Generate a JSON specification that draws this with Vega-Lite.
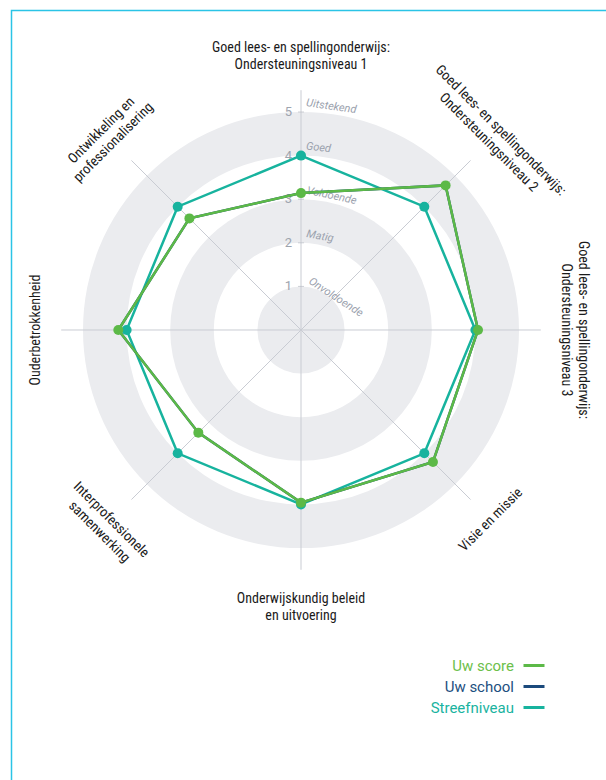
{
  "$schema": "https://vega.github.io/schema/vega-lite/v6.json",
  "width": 600.5,
  "height": 775.5,
  "autosize": {"type": "none"},
  "padding": {"left": 11.5, "top": 10.5, "right": 0, "bottom": 0},
  "background": "white",
  "config": {
    "view": {"stroke": "#2bc4e6", "strokeWidth": 1.5},
    "font": "Roboto"
  },
  "datasets": {
    "axes": [
      {"idx": 0, "axis": "Goed lees- en spellingonderwijs:\nOndersteuningsniveau 1"},
      {"idx": 1, "axis": "Goed lees- en spellingonderwijs:\nOndersteuningsniveau 2"},
      {"idx": 2, "axis": "Goed lees- en spellingonderwijs:\nOndersteuningsniveau 3"},
      {"idx": 3, "axis": "Visie en missie"},
      {"idx": 4, "axis": "Onderwijskundig beleid\nen uitvoering"},
      {"idx": 5, "axis": "Interprofessionele\nsamenwerking"},
      {"idx": 6, "axis": "Ouderbetrokkenheid"},
      {"idx": 7, "axis": "Ontwikkeling en\nprofessionalisering"}
    ],
    "scores": [
      {"idx": 0, "series": "Streefniveau", "value": 4},
      {"idx": 1, "series": "Streefniveau", "value": 4},
      {"idx": 2, "series": "Streefniveau", "value": 4},
      {"idx": 3, "series": "Streefniveau", "value": 4},
      {"idx": 4, "series": "Streefniveau", "value": 4},
      {"idx": 5, "series": "Streefniveau", "value": 4},
      {"idx": 6, "series": "Streefniveau", "value": 4},
      {"idx": 7, "series": "Streefniveau", "value": 4},
      {"idx": 0, "series": "Uw school", "value": 3.14},
      {"idx": 1, "series": "Uw school", "value": 4.69},
      {"idx": 2, "series": "Uw school", "value": 4.06},
      {"idx": 3, "series": "Uw school", "value": 4.28},
      {"idx": 4, "series": "Uw school", "value": 3.96},
      {"idx": 5, "series": "Uw school", "value": 3.33},
      {"idx": 6, "series": "Uw school", "value": 4.19},
      {"idx": 7, "series": "Uw school", "value": 3.62},
      {"idx": 0, "series": "Uw score", "value": 3.14},
      {"idx": 1, "series": "Uw score", "value": 4.69},
      {"idx": 2, "series": "Uw score", "value": 4.06},
      {"idx": 3, "series": "Uw score", "value": 4.28},
      {"idx": 4, "series": "Uw score", "value": 3.96},
      {"idx": 5, "series": "Uw score", "value": 3.33},
      {"idx": 6, "series": "Uw score", "value": 4.19},
      {"idx": 7, "series": "Uw score", "value": 3.62}
    ],
    "rings": [
      {"r": 5},
      {"r": 4},
      {"r": 3},
      {"r": 2},
      {"r": 1}
    ],
    "levels": [
      {"v": 1, "label": "Onvoldoende"},
      {"v": 2, "label": "Matig"},
      {"v": 3, "label": "Voldoende"},
      {"v": 4, "label": "Goed"},
      {"v": 5, "label": "Uitstekend"}
    ]
  },
  "layer": [
    {
      "data": {"name": "rings"},
      "mark": {"type": "point", "shape": "circle", "filled": true, "opacity": 1, "strokeWidth": 0},
      "encoding": {
        "x": {"datum": 0, "type": "quantitative", "axis": null, "scale": {"domain": [-6.640, 7.133], "nice": false, "zero": false}},
        "y": {"datum": 0, "type": "quantitative", "axis": null, "scale": {"domain": [-10.459, 7.328], "nice": false, "zero": false}},
        "size": {"field": "r", "type": "quantitative", "scale": {"type": "pow", "exponent": 2, "domain": [0, 5], "range": [0, 190096], "zero": true}, "legend": null},
        "color": {"condition": {"test": "datum.r % 2 == 1", "value": "#ebecef"}, "value": "#ffffff"}
      }
    },
    {
      "data": {"name": "axes"},
      "transform": [
        {"calculate": "5.5*sin(datum.idx*PI/4)", "as": "ex"},
        {"calculate": "5.5*cos(datum.idx*PI/4)", "as": "ey"}
      ],
      "mark": {"type": "rule", "color": "#c9ccd3", "strokeWidth": 1},
      "encoding": {
        "x": {"field": "ex", "type": "quantitative", "axis": null, "scale": {"domain": [-6.640, 7.133], "nice": false, "zero": false}},
        "y": {"field": "ey", "type": "quantitative", "axis": null, "scale": {"domain": [-10.459, 7.328], "nice": false, "zero": false}},
        "x2": {"datum": 0},
        "y2": {"datum": 0}
      }
    },
    {
      "data": {"name": "levels"},
      "mark": {"type": "tick", "orient": "horizontal", "size": 6, "thickness": 1, "color": "#b9bdc6"},
      "encoding": {
        "x": {"datum": 0, "type": "quantitative", "axis": null, "scale": {"domain": [-6.640, 7.133], "nice": false, "zero": false}},
        "y": {"field": "v", "type": "quantitative", "axis": null, "scale": {"domain": [-10.459, 7.328], "nice": false, "zero": false}}
      }
    },
    {
      "data": {"name": "levels"},
      "mark": {"type": "text", "align": "right", "baseline": "middle", "dx": -9, "fontSize": 13, "color": "#9ea4ae", "font": "Roboto"},
      "encoding": {
        "x": {"datum": 0, "type": "quantitative", "axis": null, "scale": {"domain": [-6.640, 7.133], "nice": false, "zero": false}},
        "y": {"field": "v", "type": "quantitative", "axis": null, "scale": {"domain": [-10.459, 7.328], "nice": false, "zero": false}},
        "text": {"field": "v", "type": "quantitative"}
      }
    },
    {
      "data": {"name": "levels"},
      "mark": {"type": "text", "align": "left", "baseline": "alphabetic", "dx": 4, "dy": -6.5, "fontSize": 11, "fontStyle": "italic", "color": "#9aa1ad", "font": "Roboto"},
      "encoding": {
        "x": {"datum": 0, "type": "quantitative", "axis": null, "scale": {"domain": [-6.640, 7.133], "nice": false, "zero": false}},
        "y": {"field": "v", "type": "quantitative", "axis": null, "scale": {"domain": [-10.459, 7.328], "nice": false, "zero": false}},
        "text": {"field": "label", "type": "nominal"},
        "angle": {"field": "v", "type": "quantitative", "scale": {"type": "linear", "domain": [1, 2, 3, 4, 5], "range": [33, 10, 12, 6, 8]}}
      }
    },
    {
      "data": {"name": "axes"},
      "transform": [
        {"filter": "datum.idx <= 2 || datum.idx == 7"},
        {"calculate": "5.92*sin(datum.idx*PI/4)", "as": "lx"},
        {"calculate": "5.92*cos(datum.idx*PI/4)", "as": "ly"},
        {"calculate": "datum.idx <= 2 ? datum.idx*45 : datum.idx*45 - 360", "as": "rot"}
      ],
      "mark": {"type": "text", "align": "center", "baseline": "bottom", "dy": -17, "lineBreak": "\n", "lineHeight": 17, "font": "Roboto Condensed, Liberation Sans Narrow, Roboto", "fontSize": 14, "color": "#1a1a1a"},
      "encoding": {
        "x": {"field": "lx", "type": "quantitative", "axis": null, "scale": {"domain": [-6.640, 7.133], "nice": false, "zero": false}},
        "y": {"field": "ly", "type": "quantitative", "axis": null, "scale": {"domain": [-10.459, 7.328], "nice": false, "zero": false}},
        "text": {"field": "axis", "type": "nominal"},
        "angle": {"field": "rot", "type": "quantitative", "scale": null}
      }
    },
    {
      "data": {"name": "axes"},
      "transform": [
        {"filter": "datum.idx == 6"},
        {"calculate": "5.92*sin(datum.idx*PI/4)", "as": "lx"},
        {"calculate": "5.92*cos(datum.idx*PI/4)", "as": "ly"},
        {"calculate": "datum.idx*45 - 360", "as": "rot"}
      ],
      "mark": {"type": "text", "align": "center", "baseline": "bottom", "lineBreak": "\n", "lineHeight": 17, "font": "Roboto Condensed, Liberation Sans Narrow, Roboto", "fontSize": 14, "color": "#1a1a1a"},
      "encoding": {
        "x": {"field": "lx", "type": "quantitative", "axis": null, "scale": {"domain": [-6.640, 7.133], "nice": false, "zero": false}},
        "y": {"field": "ly", "type": "quantitative", "axis": null, "scale": {"domain": [-10.459, 7.328], "nice": false, "zero": false}},
        "text": {"field": "axis", "type": "nominal"},
        "angle": {"field": "rot", "type": "quantitative", "scale": null}
      }
    },
    {
      "data": {"name": "axes"},
      "transform": [
        {"filter": "datum.idx >= 3 && datum.idx <= 5"},
        {"calculate": "6.0*sin(datum.idx*PI/4)", "as": "lx"},
        {"calculate": "6.0*cos(datum.idx*PI/4)", "as": "ly"},
        {"calculate": "datum.idx*45 - 180", "as": "rot"}
      ],
      "mark": {"type": "text", "align": "center", "baseline": "top", "lineBreak": "\n", "lineHeight": 17, "font": "Roboto Condensed, Liberation Sans Narrow, Roboto", "fontSize": 14, "color": "#1a1a1a"},
      "encoding": {
        "x": {"field": "lx", "type": "quantitative", "axis": null, "scale": {"domain": [-6.640, 7.133], "nice": false, "zero": false}},
        "y": {"field": "ly", "type": "quantitative", "axis": null, "scale": {"domain": [-10.459, 7.328], "nice": false, "zero": false}},
        "text": {"field": "axis", "type": "nominal"},
        "angle": {"field": "rot", "type": "quantitative", "scale": null}
      }
    },
    {
      "data": {"name": "scores"},
      "transform": [
        {"filter": "datum.series == 'Streefniveau'"},
        {"calculate": "datum.value*sin(datum.idx*PI/4)", "as": "px"},
        {"calculate": "datum.value*cos(datum.idx*PI/4)", "as": "py"}
      ],
      "mark": {"type": "line", "interpolate": "linear-closed", "strokeWidth": 2.5},
      "encoding": {
        "x": {"field": "px", "type": "quantitative", "axis": null, "scale": {"domain": [-6.640, 7.133], "nice": false, "zero": false}},
        "y": {"field": "py", "type": "quantitative", "axis": null, "scale": {"domain": [-10.459, 7.328], "nice": false, "zero": false}},
        "order": {"field": "idx", "type": "quantitative"},
        "color": {"field": "series", "type": "nominal",
          "scale": {"domain": ["Uw score", "Uw school", "Streefniveau"], "range": ["#5cb947", "#1b4a7c", "#17b39e"]},
          "legend": {"title": null, "orient": "none", "legendX": 510.5, "legendY": 643, "symbolType": "stroke", "symbolSize": 441, "symbolStrokeWidth": 3, "labelAlign": "right", "labelOffset": -32, "labelFont": "Roboto", "labelFontSize": 15, "labelLimit": 300, "rowPadding": 1, "padding": 0,
            "labelColor": {"expr": "datum.label == 'Uw score' ? '#6cc04a' : (datum.label == 'Uw school' ? '#1d4f80' : '#1ab3a0')"}}
        }
      }
    },
    {
      "data": {"name": "scores"},
      "transform": [
        {"filter": "datum.series == 'Streefniveau'"},
        {"calculate": "datum.value*sin(datum.idx*PI/4)", "as": "px"},
        {"calculate": "datum.value*cos(datum.idx*PI/4)", "as": "py"}
      ],
      "mark": {"type": "point", "shape": "circle", "filled": true, "size": 100, "opacity": 1, "color": "#17b39e"},
      "encoding": {
        "x": {"field": "px", "type": "quantitative", "axis": null, "scale": {"domain": [-6.640, 7.133], "nice": false, "zero": false}},
        "y": {"field": "py", "type": "quantitative", "axis": null, "scale": {"domain": [-10.459, 7.328], "nice": false, "zero": false}}
      }
    },
    {
      "data": {"name": "scores"},
      "transform": [
        {"filter": "datum.series == 'Uw school'"},
        {"calculate": "datum.value*sin(datum.idx*PI/4)", "as": "px"},
        {"calculate": "datum.value*cos(datum.idx*PI/4)", "as": "py"}
      ],
      "mark": {"type": "line", "interpolate": "linear-closed", "strokeWidth": 2.5},
      "encoding": {
        "x": {"field": "px", "type": "quantitative", "axis": null, "scale": {"domain": [-6.640, 7.133], "nice": false, "zero": false}},
        "y": {"field": "py", "type": "quantitative", "axis": null, "scale": {"domain": [-10.459, 7.328], "nice": false, "zero": false}},
        "order": {"field": "idx", "type": "quantitative"},
        "color": {"field": "series", "type": "nominal"}
      }
    },
    {
      "data": {"name": "scores"},
      "transform": [
        {"filter": "datum.series == 'Uw score'"},
        {"calculate": "datum.value*sin(datum.idx*PI/4)", "as": "px"},
        {"calculate": "datum.value*cos(datum.idx*PI/4)", "as": "py"}
      ],
      "mark": {"type": "line", "interpolate": "linear-closed", "strokeWidth": 2.5},
      "encoding": {
        "x": {"field": "px", "type": "quantitative", "axis": null, "scale": {"domain": [-6.640, 7.133], "nice": false, "zero": false}},
        "y": {"field": "py", "type": "quantitative", "axis": null, "scale": {"domain": [-10.459, 7.328], "nice": false, "zero": false}},
        "order": {"field": "idx", "type": "quantitative"},
        "color": {"field": "series", "type": "nominal"}
      }
    },
    {
      "data": {"name": "scores"},
      "transform": [
        {"filter": "datum.series == 'Uw score'"},
        {"calculate": "datum.value*sin(datum.idx*PI/4)", "as": "px"},
        {"calculate": "datum.value*cos(datum.idx*PI/4)", "as": "py"}
      ],
      "mark": {"type": "point", "shape": "circle", "filled": true, "size": 100, "opacity": 1, "color": "#5cb947"},
      "encoding": {
        "x": {"field": "px", "type": "quantitative", "axis": null, "scale": {"domain": [-6.640, 7.133], "nice": false, "zero": false}},
        "y": {"field": "py", "type": "quantitative", "axis": null, "scale": {"domain": [-10.459, 7.328], "nice": false, "zero": false}}
      }
    }
  ]
}
